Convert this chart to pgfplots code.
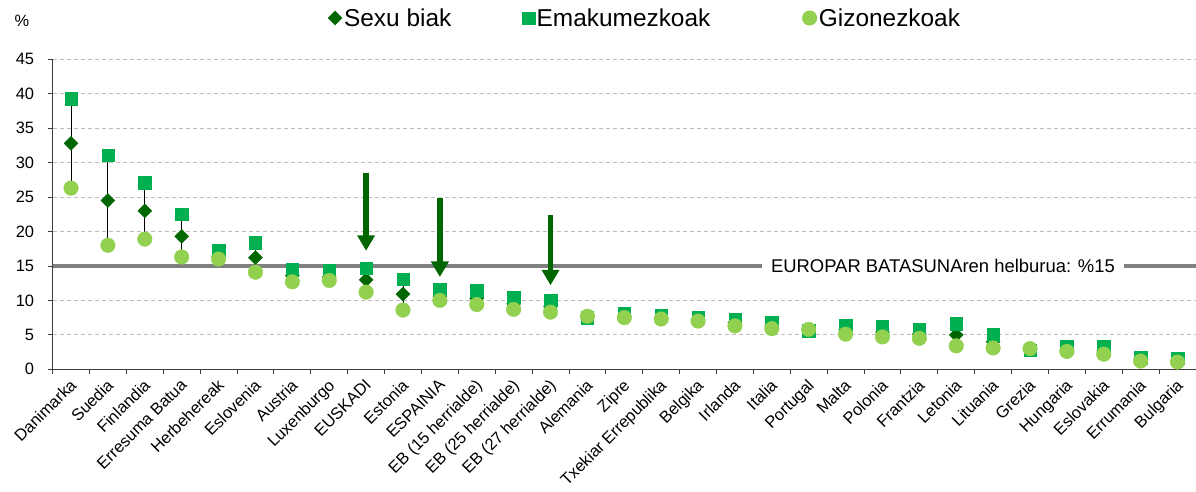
\documentclass[border=0pt]{standalone}
\usepackage{fontspec}
\setmainfont{Liberation Sans}
\usepackage{pgfplots}
\pgfplotsset{compat=1.18}
\usepackage{pgfplotstable}
\usetikzlibrary{arrows.meta}
\definecolor{dg}{RGB}{0,102,0}
\definecolor{mg}{RGB}{0,176,80}
\definecolor{lg}{RGB}{146,208,80}
\definecolor{hl}{RGB}{128,128,128}
\definecolor{gridc}{RGB}{190,190,190}
\definecolor{axc}{RGB}{60,60,60}

\pgfplotstableread{
x both women men
0 32.8 39.3 26.3
1 24.5 31.1 18.0
2 23.0 27.1 18.9
3 19.3 22.5 16.3
4 16.4 17.2 16.0
5 16.2 18.4 14.1
6 13.6 14.5 12.7
7 13.4 14.3 12.9
8 13.0 14.7 11.2
9 10.9 13.1 8.6
10 10.6 11.6 10.0
11 10.3 11.4 9.4
12 9.5 10.5 8.7
13 9.1 10.0 8.3
14 7.6 7.5 7.7
15 7.7 8.1 7.5
16 7.5 7.8 7.3
17 7.2 7.5 7.0
18 6.8 7.3 6.3
19 6.3 6.8 5.9
20 5.7 5.6 5.8
21 5.7 6.4 5.1
22 5.4 6.2 4.7
23 5.1 5.8 4.5
24 5.0 6.6 3.4
25 4.0 5.0 3.1
26 2.9 2.8 3.0
27 2.9 3.3 2.6
28 2.7 3.3 2.2
29 1.4 1.7 1.2
30 1.3 1.6 1.05
}\data

\begin{document}
\begin{tikzpicture}
\useasboundingbox (0,0) rectangle (1196bp,492bp);
\begin{axis}[
  at={(52.6bp,122.7bp)}, anchor=south west,
  scale only axis, width=1143.4bp, height=310bp,
  xmin=-0.5, xmax=30.5, ymin=0, ymax=45,
  axis lines=left,
  axis line style={-, draw=axc, line width=0.9bp},
  xtick={0,...,30},
  xticklabels={Danimarka,Suedia,Finlandia,Erresuma Batua,Herbehereak,Eslovenia,Austria,Luxenburgo,EUSKADI,Estonia,ESPAINIA,EB (15 herrialde),EB (25 herrialde),EB (27 herrialde),Alemania,Zipre,Txekiar Errepublika,Belgika,Irlanda,Italia,Portugal,Malta,Polonia,Frantzia,Letonia,Lituania,Grezia,Hungaria,Eslovakia,Errumania,Bulgaria},
  major x tick style={draw=none},
  minor xtick={-0.5,0.5,...,30.5},
  minor tick length=5bp,
  major tick length=5bp,
  tick align=outside,
  tick style={draw=axc, line width=0.9bp},
  ytick={0,5,...,45},
  ymajorgrids,
  grid style={draw=gridc, line width=0.8bp, dash pattern=on 4bp off 3bp},
  /pgf/number format/assume math mode=true,
  yticklabel style={font=\fontsize{16.5}{18}\selectfont, xshift=-10bp},
  xticklabel style={font=\fontsize{16.5}{18}\selectfont, rotate=45, anchor=north east, inner sep=1bp, xshift=-3bp, yshift=0bp},
  clip=false,
  legend columns=3,
  legend style={at={(0.2382,1.1332)}, anchor=west, draw=none, fill=none,
    font=\fontsize{24.5}{26}\selectfont,
    /tikz/column 2/.style={column sep=69bp},
    /tikz/column 4/.style={column sep=90bp}},
  legend cell align=left,
]
\addplot[draw=none, forget plot, error bars/.cd, y dir=plus, y explicit, error mark=none,
  error bar style={draw=black, solid, line width=0.9bp}]
  table[x=x, y=men, y error expr=\thisrow{women}-\thisrow{men}] {\data};
\addplot[only marks, mark=square*, mark size=4.95bp, mark options={rotate=45, fill=dg, draw=dg}]
  table[x=x, y=both] {\data};
\addlegendentry{Sexu biak}
\addplot[only marks, mark=square*, mark size=6.2bp, mark options={fill=mg, draw=mg}]
  table[x=x, y=women] {\data};
\addlegendentry{Emakumezkoak}
\addplot[only marks, mark=*, mark size=7.3bp, mark options={fill=lg, draw=lg}]
  table[x=x, y=men] {\data};
\addlegendentry{Gizonezkoak}
\draw[draw=hl, line width=4bp] (axis cs:-0.5,15) -- (axis cs:30.5,15);
\node[fill=white, inner xsep=9bp, inner ysep=3bp, font=\fontsize{18.5}{20}\selectfont] at (axis cs:23.64,15) {EUROPAR BATASUNAren helburua: \%15};
\draw[dg, line width=5.7bp, -{Triangle[width=17bp,length=15.5bp]}] (axis cs:8,28.5) -- (axis cs:8,17.2);
\draw[dg, line width=5.7bp, -{Triangle[width=17bp,length=15.5bp]}] (axis cs:10,24.9) -- (axis cs:10,13.4);
\draw[dg, line width=5.7bp, -{Triangle[width=17bp,length=15.5bp]}] (axis cs:13,22.4) -- (axis cs:13,12.2);
\end{axis}
\node[font=\fontsize{16.5}{18}\selectfont] at (22bp,471bp) {\%};
\end{tikzpicture}
\end{document}
